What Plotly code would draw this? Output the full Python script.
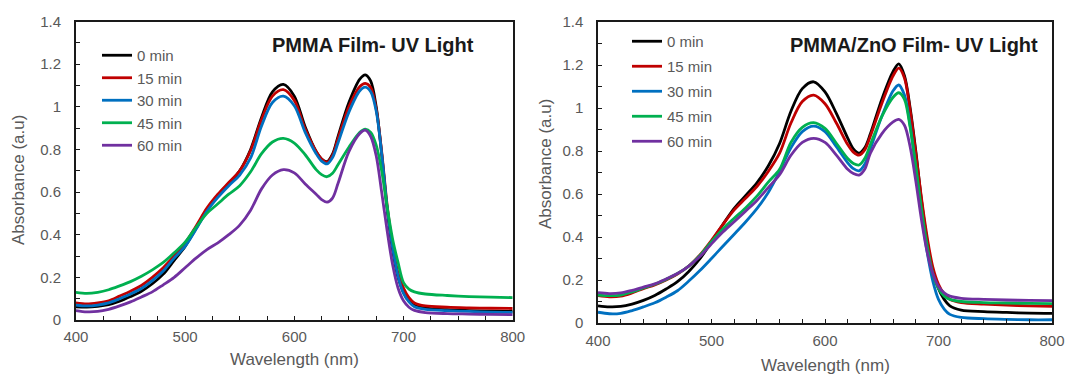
import plotly.graph_objects as go

# ---------------- data ----------------
wavelength = [400, 410, 420, 430, 440, 450, 460, 470, 480, 490, 500, 510, 520, 530, 540,
              550, 560, 570, 580, 590, 600, 610, 620, 625, 630, 635, 640, 650, 660, 665, 670, 675,
              680, 685, 690, 695, 700, 705, 710, 720, 740, 760, 780, 800]

series_names = ["0 min", "15 min", "30 min", "45 min", "60 min"]
series_colors = ["#000000", "#C00000", "#0070C0", "#00B050", "#7030A0"]

# PMMA Film - UV Light
pmma_0 = [0.062, 0.060, 0.064, 0.072, 0.088, 0.110, 0.135, 0.170, 0.215, 0.280, 0.345, 0.430, 0.515, 0.585, 0.640,
          0.700, 0.800, 0.950, 1.070, 1.105, 1.050, 0.905, 0.790, 0.755, 0.743, 0.778, 0.860, 1.020, 1.130, 1.150, 1.120, 1.000,
          0.780, 0.520, 0.330, 0.200, 0.130, 0.090, 0.068, 0.056, 0.048, 0.044, 0.041, 0.040]
pmma_15 = [0.080, 0.075, 0.080, 0.090, 0.112, 0.135, 0.162, 0.200, 0.245, 0.300, 0.360, 0.440, 0.525, 0.590, 0.645,
           0.700, 0.795, 0.940, 1.050, 1.080, 1.030, 0.895, 0.790, 0.755, 0.740, 0.772, 0.850, 1.000, 1.095, 1.110, 1.090, 0.990,
           0.790, 0.540, 0.350, 0.220, 0.150, 0.105, 0.080, 0.066, 0.060, 0.057, 0.055, 0.054]
pmma_30 = [0.070, 0.066, 0.070, 0.080, 0.100, 0.122, 0.148, 0.185, 0.230, 0.290, 0.345, 0.425, 0.510, 0.575, 0.630,
           0.680, 0.760, 0.910, 1.020, 1.050, 1.005, 0.880, 0.780, 0.745, 0.732, 0.762, 0.830, 0.975, 1.075, 1.092, 1.070, 0.980,
           0.780, 0.530, 0.340, 0.205, 0.125, 0.085, 0.062, 0.050, 0.044, 0.040, 0.037, 0.036]
pmma_45 = [0.130, 0.125, 0.130, 0.142, 0.160, 0.180, 0.205, 0.235, 0.270, 0.315, 0.365, 0.435, 0.500, 0.545, 0.590,
           0.630, 0.695, 0.780, 0.835, 0.852, 0.830, 0.775, 0.705, 0.682, 0.672, 0.688, 0.728, 0.810, 0.880, 0.895, 0.880, 0.820,
           0.700, 0.530, 0.380, 0.270, 0.175, 0.145, 0.132, 0.122, 0.115, 0.110, 0.107, 0.105]
pmma_60 = [0.044, 0.038, 0.040, 0.050, 0.066, 0.085, 0.108, 0.132, 0.165, 0.200, 0.245, 0.290, 0.330, 0.362, 0.400,
           0.445, 0.515, 0.615, 0.680, 0.705, 0.690, 0.638, 0.590, 0.565, 0.553, 0.572, 0.640, 0.790, 0.875, 0.890, 0.860, 0.770,
           0.600, 0.420, 0.260, 0.150, 0.090, 0.060, 0.045, 0.035, 0.030, 0.028, 0.026, 0.025]

# PMMA/ZnO Film - UV Light
zno_0 = [0.080, 0.075, 0.077, 0.088, 0.105, 0.128, 0.158, 0.192, 0.240, 0.300, 0.378, 0.458, 0.533, 0.592, 0.652,
         0.730, 0.835, 0.985, 1.090, 1.122, 1.075, 0.975, 0.860, 0.810, 0.790, 0.815, 0.880, 1.040, 1.170, 1.205, 1.150, 1.000,
         0.800, 0.570, 0.380, 0.240, 0.160, 0.110, 0.080, 0.060, 0.053, 0.049, 0.046, 0.045]
zno_15 = [0.127, 0.122, 0.125, 0.140, 0.160, 0.177, 0.200, 0.228, 0.265, 0.318, 0.385, 0.458, 0.526, 0.580, 0.635,
          0.705, 0.790, 0.930, 1.030, 1.060, 1.020, 0.930, 0.830, 0.795, 0.781, 0.805, 0.870, 1.020, 1.150, 1.185, 1.140, 0.990,
          0.790, 0.580, 0.400, 0.260, 0.180, 0.135, 0.110, 0.095, 0.088, 0.083, 0.080, 0.078]
zno_30 = [0.050, 0.043, 0.045, 0.058, 0.075, 0.094, 0.120, 0.150, 0.195, 0.245, 0.300, 0.357, 0.413, 0.470, 0.532,
          0.607, 0.705, 0.815, 0.890, 0.916, 0.890, 0.820, 0.745, 0.718, 0.708, 0.738, 0.810, 0.960, 1.080, 1.107, 1.060, 0.920,
          0.720, 0.510, 0.330, 0.195, 0.110, 0.065, 0.040, 0.026, 0.020, 0.017, 0.015, 0.015]
zno_45 = [0.130, 0.127, 0.130, 0.145, 0.163, 0.180, 0.203, 0.230, 0.265, 0.315, 0.378, 0.437, 0.487, 0.535, 0.590,
          0.655, 0.715, 0.840, 0.910, 0.932, 0.905, 0.836, 0.765, 0.742, 0.735, 0.765, 0.830, 0.960, 1.050, 1.071, 1.040, 0.910,
          0.730, 0.530, 0.360, 0.230, 0.160, 0.125, 0.110, 0.100, 0.095, 0.093, 0.091, 0.090]
zno_60 = [0.141, 0.137, 0.140, 0.152, 0.167, 0.182, 0.205, 0.230, 0.265, 0.310, 0.368, 0.423, 0.471, 0.520, 0.570,
          0.630, 0.690, 0.780, 0.840, 0.859, 0.840, 0.781, 0.715, 0.695, 0.688, 0.715, 0.790, 0.880, 0.935, 0.947, 0.920, 0.820,
          0.660, 0.480, 0.330, 0.230, 0.170, 0.140, 0.125, 0.115, 0.110, 0.107, 0.105, 0.104]

pmma_series = [pmma_0, pmma_15, pmma_30, pmma_45, pmma_60]
zno_series = [zno_0, zno_15, zno_30, zno_45, zno_60]

panel_titles = ["PMMA Film- UV Light", "PMMA/ZnO Film- UV Light"]
x_title = "Wavelength (nm)"
y_title = "Absorbance (a.u)"

# ---------------- figure ----------------
W, H = 1073, 374
OFF = 8  # page body margin offset
FONT = "Liberation Sans, Arial, sans-serif"
GRAY = "#595959"

fig = go.Figure()

for name, color, ys in zip(series_names, series_colors, pmma_series):
    fig.add_trace(go.Scatter(x=wavelength, y=ys, name=name, mode="lines",
                             line=dict(color=color, width=2.8, shape="spline", smoothing=0.9),
                             xaxis="x", yaxis="y", legend="legend"))
for name, color, ys in zip(series_names, series_colors, zno_series):
    fig.add_trace(go.Scatter(x=wavelength, y=ys, name=name, mode="lines",
                             line=dict(color=color, width=2.8, shape="spline", smoothing=0.9),
                             xaxis="x2", yaxis="y2", legend="legend2", legendgroup="g" + name))


def px_x(p):
    return (p - OFF) / W


def px_y(p):
    return 1 - (p - OFF) / H


def xaxis_cfg(domain, anchor, minor_dtick, standoff):
    return dict(domain=domain, anchor=anchor, range=[400, 800], dtick=100, tick0=400, automargin=False,
                showgrid=False, zeroline=False, showline=True, linecolor="#1a1a1a", linewidth=1.5,
                mirror=True, ticks="inside", ticklen=4, tickwidth=1.2, tickcolor="#1a1a1a",
                minor=dict(dtick=minor_dtick, ticks="inside", ticklen=4, tickwidth=1.2, tickcolor="#1a1a1a"),
                tickfont=dict(family=FONT, size=15, color=GRAY), ticklabelstandoff=standoff)


def yaxis_cfg(domain, anchor, standoff):
    return dict(domain=domain, anchor=anchor, range=[0, 1.4], dtick=0.2, tick0=0, automargin=False,
                showgrid=False, zeroline=False, showline=True, linecolor="#1a1a1a", linewidth=1.5,
                mirror=True, ticks="inside", ticklen=4, tickwidth=1.2, tickcolor="#1a1a1a",
                minor=dict(dtick=0.1, ticks="inside", ticklen=4, tickwidth=1.2, tickcolor="#1a1a1a"),
                tickfont=dict(family=FONT, size=15, color=GRAY), ticklabelstandoff=standoff)


fig.update_layout(
    width=W, height=H, margin=dict(l=0, r=0, t=0, b=0, pad=0, autoexpand=False),
    paper_bgcolor="white", plot_bgcolor="white",
    xaxis=xaxis_cfg([px_x(75.9), px_x(512.7)], "y", 25, 2),
    yaxis=yaxis_cfg([px_y(320), px_y(21.5)], "x", 10),
    xaxis2=xaxis_cfg([px_x(598), px_x(1052)], "y2", 20, 3),
    yaxis2=yaxis_cfg([px_y(323), px_y(22)], "x2", 10),
    legend=dict(x=px_x(97), y=px_y(39), xanchor="left", yanchor="top",
                bgcolor="rgba(0,0,0,0)", font=dict(family=FONT, size=15, color=GRAY),
                tracegroupgap=0),
    legend2=dict(x=px_x(627), y=px_y(25), xanchor="left", yanchor="top",
                 bgcolor="rgba(0,0,0,0)", font=dict(family=FONT, size=15, color=GRAY),
                 tracegroupgap=2.5),
    showlegend=True,
)

annotations = [
    dict(text="<b>" + panel_titles[0] + "</b>", x=px_x(373), y=px_y(45), xref="paper", yref="paper",
         xanchor="center", yanchor="middle", showarrow=False,
         font=dict(family=FONT, size=20, color="#1a1a1a")),
    dict(text="<b>" + panel_titles[1] + "</b>", x=px_x(914), y=px_y(45), xref="paper", yref="paper",
         xanchor="center", yanchor="middle", showarrow=False,
         font=dict(family=FONT, size=20, color="#1a1a1a")),
    dict(text=x_title, x=px_x(294), y=px_y(359), xref="paper", yref="paper",
         xanchor="center", yanchor="middle", showarrow=False, font=dict(family=FONT, size=17, color=GRAY)),
    dict(text=x_title, x=px_x(825), y=px_y(365), xref="paper", yref="paper",
         xanchor="center", yanchor="middle", showarrow=False, font=dict(family=FONT, size=17, color=GRAY)),
    dict(text=y_title, x=px_x(18), y=px_y(180), xref="paper", yref="paper", textangle=-90,
         xanchor="center", yanchor="middle", showarrow=False, font=dict(family=FONT, size=17, color=GRAY)),
    dict(text=y_title, x=px_x(545), y=px_y(164), xref="paper", yref="paper", textangle=-90,
         xanchor="center", yanchor="middle", showarrow=False, font=dict(family=FONT, size=17, color=GRAY)),
]
fig.update_layout(annotations=annotations)

fig.write_html("out.html")
